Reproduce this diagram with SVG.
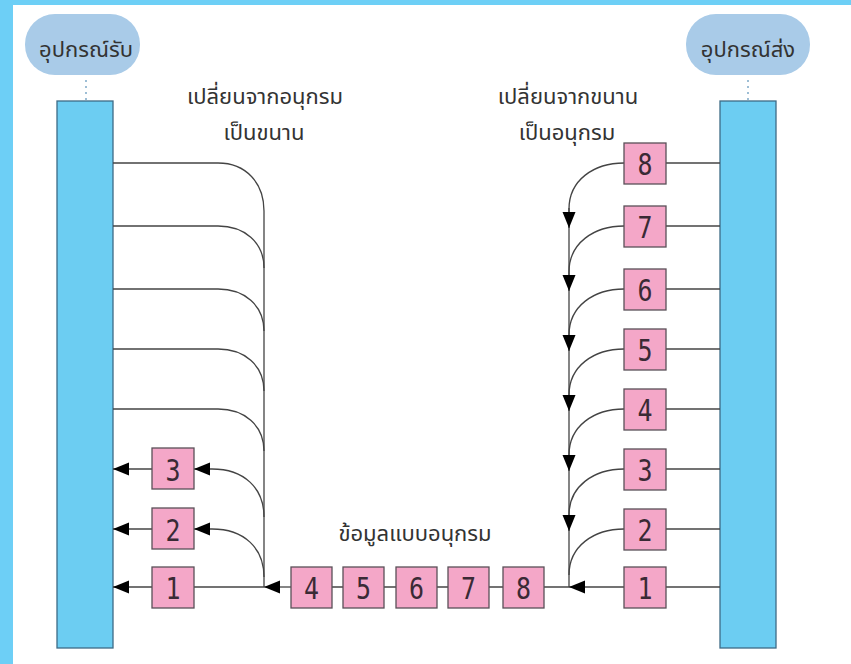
<svg xmlns="http://www.w3.org/2000/svg" width="851" height="664" viewBox="0 0 851 664">
  <style>
    .frame { fill: #6dcff6; }
    .bar { fill: #6ccdf2; stroke: #3e6b86; stroke-width: 1.3; }
    .pill { fill: #a9cbe8; }
    .dots { stroke: #86aecb; stroke-width: 1.6; stroke-dasharray: 2 4; fill: none; }
    .box { fill: #f4a7c8; stroke: #5a5058; stroke-width: 1.3; }
    .num { font-family: "DejaVu Sans Mono", "Liberation Mono", monospace; font-size: 31px; fill: #3a2a35; text-anchor: middle; }
    .lbl { font-family: "Noto Sans Thai", "Noto Sans", "DejaVu Sans", sans-serif; font-size: 22px; fill: #333; text-anchor: middle; }
    .wire { fill: none; stroke: #444; stroke-width: 1.3; }
    .arr { fill: none; stroke: #444; stroke-width: 1.3; marker-end: url(#tip); }
  </style>
  <defs>
    <marker id="tip" markerUnits="userSpaceOnUse" markerWidth="18" markerHeight="14" refX="16" refY="6.5" orient="auto">
      <path d="M0,0 L16,6.5 L0,13 Z" fill="#000"/>
    </marker>
  </defs>

  <!-- frame edges -->
  <rect class="frame" x="0" y="0" width="851" height="5"/>
  <rect class="frame" x="0" y="0" width="13" height="664"/>

  <!-- receiving device -->
  <g id="receiver">
    <rect class="pill" x="25" y="14" width="115" height="61" rx="30"/>
    <text class="lbl" x="86" y="57">อุปกรณ์รับ</text>
    <line class="dots" x1="86" y1="80" x2="86" y2="100"/>
    <rect class="bar" x="57" y="101" width="56" height="547"/>
  </g>

  <!-- sending device -->
  <g id="sender">
    <rect class="pill" x="686" y="14" width="124" height="61" rx="30"/>
    <text class="lbl" x="748" y="57">อุปกรณ์ส่ง</text>
    <line class="dots" x1="748" y1="80" x2="748" y2="100"/>
    <rect class="bar" x="720" y="101" width="56" height="547"/>
  </g>

  <!-- captions -->
  <g id="caption-left">
    <text class="lbl" x="265" y="104">เปลี่ยนจากอนุกรม</text>
    <text class="lbl" x="264" y="140">เป็นขนาน</text>
  </g>
  <g id="caption-right">
    <text class="lbl" x="568" y="104">เปลี่ยนจากขนาน</text>
    <text class="lbl" x="567" y="140">เป็นอนุกรม</text>
  </g>
  <g id="caption-serial">
    <text class="lbl" x="415" y="541">ข้อมูลแบบอนุกรม</text>
  </g>

  <!-- connectors -->
  <g id="connectors">
    <!-- receiver side: parallel lines merging into the serial trunk -->
    <path class="wire" d="M113,163 H218 C246,163 264,183 264,211 V587"/>
    <path class="wire" d="M113,226 H218 C244,226 264,242 264,268"/>
    <path class="wire" d="M113,289 H218 C244,289 264,305 264,331"/>
    <path class="wire" d="M113,349 H218 C244,349 264,365 264,391"/>
    <path class="wire" d="M113,409 H218 C244,409 264,425 264,451"/>
    <path class="arr" d="M264,517 C264,488 244,469 212,469 L194,469"/>
    <path class="arr" d="M264,577 C264,548 244,529 212,529 L194,529"/>
    <path class="wire" d="M264,587 H194"/>
    <path class="arr" d="M152,469 H113"/>
    <path class="arr" d="M152,529 H113"/>
    <path class="arr" d="M152,587 H113"/>
    <path class="arr" d="M291,587 H264"/>

    <!-- serial chain -->
    <path class="wire" d="M291,587 H569"/>

    <!-- sender side: parallel outputs folding into the serial trunk -->
    <path class="wire" d="M666,163 H720"/>
    <path class="wire" d="M666,226 H720"/>
    <path class="wire" d="M666,289 H720"/>
    <path class="wire" d="M666,349 H720"/>
    <path class="wire" d="M666,409 H720"/>
    <path class="wire" d="M666,469 H720"/>
    <path class="wire" d="M666,529 H720"/>
    <path class="wire" d="M666,587 H720"/>
    <path class="wire" d="M624,163 C594,163 569,180 569,209 V587"/>
    <path class="wire" d="M624,226 C594,226 569,243 569,272"/>
    <path class="wire" d="M624,289 C594,289 569,306 569,335"/>
    <path class="wire" d="M624,349 C594,349 569,366 569,395"/>
    <path class="wire" d="M624,409 C594,409 569,426 569,455"/>
    <path class="wire" d="M624,469 C594,469 569,486 569,515"/>
    <path class="wire" d="M624,529 C594,529 569,546 569,575"/>
    <path class="arr" d="M569,208 V228"/>
    <path class="arr" d="M569,272 V291"/>
    <path class="arr" d="M569,335 V351"/>
    <path class="arr" d="M569,395 V411"/>
    <path class="arr" d="M569,455 V471"/>
    <path class="arr" d="M569,515 V531"/>
    <path class="arr" d="M624,587 H569"/>
  </g>

  <!-- receiver-side data boxes -->
  <g id="rx-3"><rect class="box" x="152" y="448" width="42" height="41"/><text class="num" x="173" y="481" textLength="15" lengthAdjust="spacingAndGlyphs">3</text></g>
  <g id="rx-2"><rect class="box" x="152" y="508" width="42" height="41"/><text class="num" x="173" y="541" textLength="15" lengthAdjust="spacingAndGlyphs">2</text></g>
  <g id="rx-1"><rect class="box" x="152" y="567" width="42" height="41"/><text class="num" x="173" y="599" textLength="15" lengthAdjust="spacingAndGlyphs">1</text></g>

  <!-- serial stream boxes -->
  <g id="ser-4"><rect class="box" x="291" y="567" width="41" height="41"/><text class="num" x="311.5" y="599" textLength="15" lengthAdjust="spacingAndGlyphs">4</text></g>
  <g id="ser-5"><rect class="box" x="343" y="567" width="41" height="41"/><text class="num" x="363.5" y="599" textLength="15" lengthAdjust="spacingAndGlyphs">5</text></g>
  <g id="ser-6"><rect class="box" x="396" y="567" width="41" height="41"/><text class="num" x="416.5" y="599" textLength="15" lengthAdjust="spacingAndGlyphs">6</text></g>
  <g id="ser-7"><rect class="box" x="448" y="567" width="41" height="41"/><text class="num" x="468.5" y="599" textLength="15" lengthAdjust="spacingAndGlyphs">7</text></g>
  <g id="ser-8"><rect class="box" x="503" y="567" width="41" height="41"/><text class="num" x="523.5" y="599" textLength="15" lengthAdjust="spacingAndGlyphs">8</text></g>

  <!-- sender-side data boxes -->
  <g id="tx-8"><rect class="box" x="624" y="143" width="42" height="41"/><text class="num" x="645" y="175" textLength="15" lengthAdjust="spacingAndGlyphs">8</text></g>
  <g id="tx-7"><rect class="box" x="624" y="206" width="42" height="41"/><text class="num" x="645" y="238" textLength="15" lengthAdjust="spacingAndGlyphs">7</text></g>
  <g id="tx-6"><rect class="box" x="624" y="269" width="42" height="41"/><text class="num" x="645" y="301" textLength="15" lengthAdjust="spacingAndGlyphs">6</text></g>
  <g id="tx-5"><rect class="box" x="624" y="329" width="42" height="41"/><text class="num" x="645" y="361" textLength="15" lengthAdjust="spacingAndGlyphs">5</text></g>
  <g id="tx-4"><rect class="box" x="624" y="389" width="42" height="41"/><text class="num" x="645" y="421" textLength="15" lengthAdjust="spacingAndGlyphs">4</text></g>
  <g id="tx-3"><rect class="box" x="624" y="449" width="42" height="41"/><text class="num" x="645" y="481" textLength="15" lengthAdjust="spacingAndGlyphs">3</text></g>
  <g id="tx-2"><rect class="box" x="624" y="509" width="42" height="41"/><text class="num" x="645" y="541" textLength="15" lengthAdjust="spacingAndGlyphs">2</text></g>
  <g id="tx-1"><rect class="box" x="624" y="567" width="42" height="41"/><text class="num" x="645" y="599" textLength="15" lengthAdjust="spacingAndGlyphs">1</text></g>
</svg>
